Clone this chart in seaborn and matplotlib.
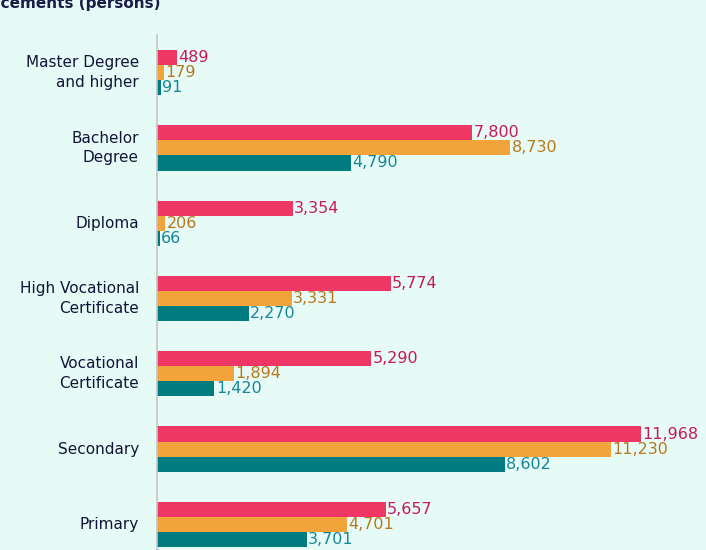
import numpy as np
import pandas as pd
import matplotlib
matplotlib.use("Agg")
import matplotlib.pyplot as plt
import seaborn as sns

# Datos
categorias = ["Master Degree\nand higher", "Bachelor\nDegree", "Diploma",
              "High Vocational\nCertificate", "Vocational\nCertificate",
              "Secondary", "Primary"]
series = ["Vacancies", "Applicants", "Placements"]
vacantes = [489, 7800, 3354, 5774, 5290, 11968, 5657]
solicitantes = [179, 8730, 206, 3331, 1894, 11230, 4701]
colocaciones = [91, 4790, 66, 2270, 1420, 8602, 3701]

colores_barra = ["#ee3764", "#f2a33a", "#007c80"]
colores_texto = ["#c8185c", "#b8781e", "#15879a"]
fondo = "#e6fbf5"

df = pd.DataFrame({
    "categoria": categorias * 3,
    "serie": np.repeat(series, len(categorias)),
    "valor": vacantes + solicitantes + colocaciones,
})

sns.set_style("white")
plt.rcParams["font.family"] = ["DejaVu Sans"]

fig = plt.figure(figsize=(7.06, 5.5), dpi=100, facecolor=fondo)
ax = fig.add_axes([157 / 706, -12 / 550, 1 - 157 / 706, 527 / 550])
ax.set_facecolor(fondo)

sns.barplot(data=df, y="categoria", x="valor", hue="serie", orient="h",
            palette=colores_barra, width=0.6, ax=ax, legend=False,
            saturation=1, edgecolor="none")

for cont, col in zip(ax.containers, colores_texto):
    ax.bar_label(cont, labels=[f"{v:,.0f}" for v in cont.datavalues],
                 color=col, fontsize=11.5, padding=1)

ax.set_xlim(0, 13575)
ax.set_ylim(6.5, -0.5)
ax.set_xlabel("")
ax.set_ylabel("")
ax.set_xticks([])
ax.set_yticks(range(len(categorias)))
ax.set_yticklabels(categorias, fontsize=11, color="#14143a", linespacing=1.4,
                   va="center")
ax.set_yticks([i - 0.5 for i in range(len(categorias) + 1)], minor=True)
ax.tick_params(axis="y", which="major", length=0, pad=13)
ax.tick_params(axis="y", which="minor", length=4, color="#b8b8b8", width=1)
for s in ["top", "right", "bottom"]:
    ax.spines[s].set_visible(False)
ax.spines["left"].set_color("#c4c4c4")
ax.spines["left"].set_linewidth(1.2)

# título recortado en la parte superior, como en la imagen original
fig.text(160 / 706, 1 - 11 / 550, "Placements (persons)", ha="right", va="bottom",
         fontsize=11, fontweight="bold", color="#1c1c4a")

fig.savefig("out.png", dpi=100, facecolor=fondo)
